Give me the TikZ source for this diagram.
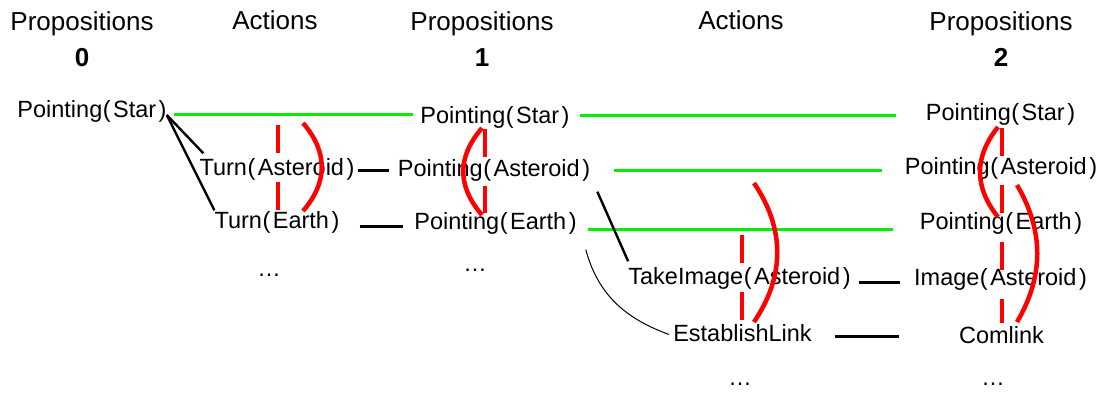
\documentclass[tikz,border=0pt]{standalone}
\usepackage{fontspec}
\setmainfont{Liberation Sans}
\newcommand{\lpar}{\kern0.5pt(\kern2.5pt}
\newcommand{\rpar}{\kern2.5pt)}
\definecolor{persistgreen}{RGB}{0,240,0}
\definecolor{mutexred}{RGB}{255,0,0}
\begin{document}
\begin{tikzpicture}[x=1pt,y=-1pt,
  head/.style={anchor=base, inner sep=0pt, font=\fontsize{26}{30}\selectfont},
  num/.style={anchor=base, inner sep=0pt, font=\fontsize{26}{30}\selectfont\bfseries},
  lbl/.style={inner sep=0pt, text height=18pt, text depth=5pt, font=\fontsize{23.5}{28}\selectfont},
  persist/.style={draw=persistgreen, line width=3pt},
  effect/.style={draw=black, line width=3pt},
  precond/.style={draw=black, line width=2.4pt},
  thinlink/.style={draw=black, line width=1pt},
  mutexarc/.style={draw=mutexred, line width=4.5pt},
  mutexdash/.style={draw=mutexred, line width=4.5pt, dash pattern=on 28pt off 29pt}
]
\useasboundingbox (0,0) rectangle (1102,392);

% headers
\node[head] (h0) at (82,30) {Propositions};
\node[num]  (n0) at (82,66) {0};
\node[head] (h1) at (275,29) {Actions};
\node[head] (h2) at (482,30) {Propositions};
\node[num]  (n1) at (482,66) {1};
\node[head] (h3) at (741,29) {Actions};
\node[head] (h4) at (1001,30) {Propositions};
\node[num]  (n2) at (1001,66) {2};

% level 0
\node[lbl] (p0s) at (92,111) {Pointing\lpar Star\rpar};

% actions 0
\node[lbl] (a0a) at (277,169) {Turn\lpar Asteroid\rpar};
\node[lbl] (a0e) at (277,222) {Turn\lpar Earth\rpar};
\node[lbl] (a0d) at (269,269.5) {…};

% level 1
\node[lbl] (p1s) at (495,117) {Pointing\lpar Star\rpar};
\node[lbl] (p1a) at (494,170) {Pointing\lpar Asteroid\rpar};
\node[lbl] (p1e) at (495.5,223) {Pointing\lpar Earth\rpar};
\node[lbl] (p1d) at (475,264.5) {…};

% actions 1
\node[lbl] (a1t) at (739.5,278) {TakeImage\lpar Asteroid\rpar};
\node[lbl] (a1l) at (742.5,334.5) {EstablishLink};
\node[lbl] (a1d) at (740,379) {…};

% level 2
\node[lbl] (p2s) at (1000.5,114) {Pointing\lpar Star\rpar};
\node[lbl] (p2a) at (1001,168) {Pointing\lpar Asteroid\rpar};
\node[lbl] (p2e) at (1001,223) {Pointing\lpar Earth\rpar};
\node[lbl] (p2i) at (1000.5,279) {Image\lpar Asteroid\rpar};
\node[lbl] (p2c) at (1001.5,336.5) {Comlink};
\node[lbl] (p2d) at (993,379) {…};

% persistence (no-op) links
\draw[persist, shorten <=7pt, shorten >=7pt] (p0s.east |- 0,114) -- (p1s.west |- 0,114);
\draw[persist, shorten <=10pt, shorten >=30pt] (p1s.east |- 0,115) -- (p2s.west |- 0,115);
\draw[persist, shorten <=24pt, shorten >=23pt] (p1a.east |- 0,170) -- (p2a.west |- 0,170);
\draw[persist, shorten <=11pt, shorten >=27pt] (p1e.east |- 0,229) -- (p2e.west |- 0,229);

% effect links
\draw[effect, shorten <=3pt, shorten >=9pt] (a0a.east |- 0,170) -- (p1a.west |- 0,170);
\draw[effect, shorten <=20pt, shorten >=11pt] (a0e.east |- 0,226) -- (p1e.west |- 0,226);
\draw[effect, shorten <=8pt, shorten >=14pt] (a1t.east |- 0,282) -- (p2i.west |- 0,282);
\draw[effect, shorten <=23pt, shorten >=60pt] (a1l.east |- 0,336) -- (p2c.west |- 0,336);

% precondition links
\draw[precond] ([yshift=-4pt]p0s.east) -- ([shift={(4pt,4pt)}]a0a.north west);
\draw[precond] ([yshift=-4pt]p0s.east) -- (a0e.north west);
\draw[precond] ([shift={(7pt,-10pt)}]p1a.south east) -- ([yshift=5pt]a1t.north west);
\draw[thinlink] ([shift={(9pt,-15pt)}]p1e.south east) to[out=-75, in=160] ([xshift=-4pt]a1l.west);

% mutex marks
\draw[mutexdash] (278,125) -- (278,211);
\draw[mutexarc] (303,123) .. controls (328,152) and (328,182) .. (303,211);

\draw[mutexdash] (485,129) -- (485,213);
\draw[mutexarc] (482,128) .. controls (457,157) and (457,186) .. (482,215);

\draw[mutexdash] (742,235) -- (742,321);
\draw[mutexarc] (754,183) .. controls (785,229) and (785,276) .. (754,322);

\draw[mutexdash] (1002,128) -- (1002,323);
\draw[mutexarc] (998,127) .. controls (974,157) and (974,187) .. (998,217);
\draw[mutexarc] (1017,185) .. controls (1044,231) and (1044,276) .. (1017,322);
\end{tikzpicture}
\end{document}
